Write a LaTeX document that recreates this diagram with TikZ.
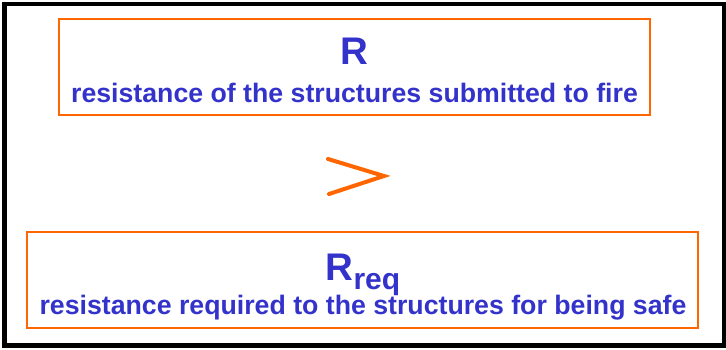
\documentclass[tikz,border=0pt]{standalone}
\usepackage{fontspec}
\setmainfont{Liberation Sans}
\definecolor{txtblue}{HTML}{3333CC}
\definecolor{boxorange}{HTML}{FF6600}
\begin{document}
\begin{tikzpicture}[x=1pt,y=-1pt,
  framebox/.style={draw=boxorange,line width=2pt},
  bigtxt/.style={text=txtblue,font=\bfseries\fontsize{26.7}{30}\selectfont,inner sep=0pt,anchor=base},
  symtxt/.style={text=txtblue,font=\bfseries\fontsize{38.5}{42}\selectfont,inner sep=0pt,anchor=base},
  gtline/.style={draw=boxorange,line width=4pt,line cap=round,line join=miter}]
\useasboundingbox (0,0) rectangle (726,349);
\draw[line width=4.6pt] (4.3,4) rectangle (724,345.7);
% top box
\node[framebox,minimum width=591pt,minimum height=96pt,inner sep=0pt] (topbox) at (354.5,67) {};
\node[symtxt] (R) at (354.5,64) {R};
\node[bigtxt] (Rdesc) at (354.5,102) {resistance of the structures submitted to fire};
% greater-than
\coordinate (g1) at (328,159);
\coordinate (g2) at (384,176);
\coordinate (g3) at (329,194);
\draw[gtline] (g1) -- (g2) -- (g3);
% bottom box
\node[framebox,minimum width=671pt,minimum height=96pt,inner sep=0pt] (botbox) at (362.5,280) {};
\node[symtxt] (Rreq) at (363,280) {R\raisebox{-9pt}{\fontsize{30}{32}\selectfont req}};
\node[bigtxt] (Rreqdesc) at (363,314) {resistance required to the structures for being safe};
\end{tikzpicture}
\end{document}
